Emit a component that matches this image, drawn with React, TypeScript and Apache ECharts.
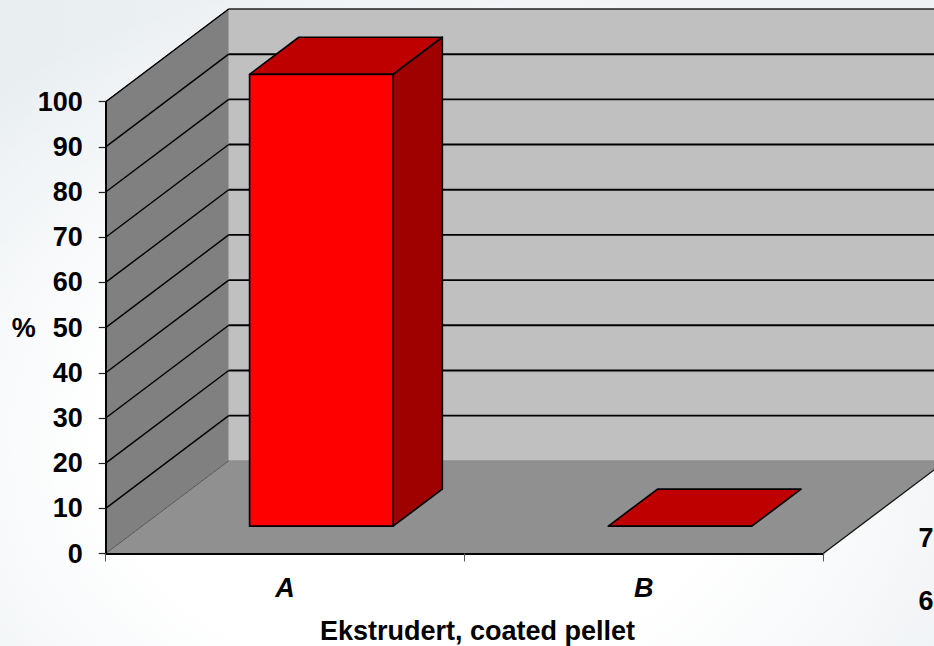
import React, { useEffect, useRef } from "react";
import * as echarts from "echarts";

const categories = ["A", "B"];
const values = [100, 0];
const gridTicks = [10, 20, 30, 40, 50, 60, 70, 80, 90, 100];
const clippedLabels = ["7", "6"];
const xName = "Ekstrudert, coated pellet";
const yName = "%";

const DX = 123;
const DY = -92.7;
const BAR_FRONT = 0.295;
const BAR_BACK = 0.695;
const BAR_W = 0.4;
const FONT = "Liberation Sans";
const FS = 27;

function poly(points: number[][], fill: string, stroke: string, lineWidth: number) {
  return { type: "polygon", shape: { points }, style: { fill, stroke, lineWidth, lineJoin: "round" } };
}

export default function App() {
  const ref = useRef<HTMLDivElement>(null);
  useEffect(() => {
    const chart = echarts.init(ref.current!, undefined, { renderer: "svg" });
    const bounds = (api: any) => {
      const w = api.size([1, 0])[0];
      const left = api.coord([0, 0])[0] - w / 2;
      const right = left + w * categories.length;
      return { w, left, right };
    };
    chart.setOption({
      animation: false,
      backgroundColor: "transparent",
      grid: { left: 105.7, top: 101.7, width: 717.5, height: 451.8, containLabel: false, outerBoundsMode: "none" },
      xAxis: {
        type: "category",
        data: categories,
        z: 10,
        axisLine: { lineStyle: { color: "#000", width: 2.2 } },
        axisTick: { show: true, length: 8, alignWithLabel: false, lineStyle: { color: "#555", width: 1 } },
        axisLabel: { fontFamily: FONT, fontWeight: "bold", fontStyle: "italic", fontSize: FS, color: "#000", margin: 21 },
        name: xName,
        nameLocation: "middle",
        nameGap: 64,
        nameMoveOverlap: false,
        nameTextStyle: { fontFamily: FONT, fontWeight: "bold", fontSize: FS, color: "#000", padding: [0, 0, 0, 26] },
      },
      yAxis: {
        type: "value",
        min: 0,
        max: 100,
        interval: 10,
        z: 10,
        axisLine: { show: true, lineStyle: { color: "#000", width: 2 } },
        axisTick: { show: true, length: 7, lineStyle: { color: "#222", width: 1.2 } },
        axisLabel: { fontFamily: FONT, fontWeight: "bold", fontSize: FS, color: "#000", margin: 23 },
        splitLine: { show: false },
        name: yName,
        nameLocation: "middle",
        nameRotate: 0,
        nameGap: 70,
        nameMoveOverlap: false,
        nameTextStyle: { fontFamily: FONT, fontWeight: "bold", fontSize: FS, color: "#000" },
      },
      graphic: clippedLabels.map((t, i) => ({
        type: "text",
        x: 918.5,
        y: i === 0 ? 524 : 587,
        style: { text: t, fontFamily: FONT, fontWeight: "bold", fontSize: FS, fill: "#000" },
      })),
      series: [
        {
          type: "custom",
          coordinateSystem: "cartesian2d",
          clip: false,
          z: 1,
          data: [[0, 0]],
          renderItem: (_p: any, api: any) => {
            const { left, right } = bounds(api);
            const y0 = api.coord([0, 0])[1];
            const y1 = api.coord([0, 100])[1];
            return {
              type: "group",
              children: [
                poly([[left + DX, y1 + DY], [right + DX, y1 + DY], [right + DX, y0 + DY], [left + DX, y0 + DY]], "#c0c0c0", "#2a2a2a", 0),
                {
                  type: "line",
                  shape: { x1: left + DX, y1: y1 + DY, x2: right + DX, y2: y1 + DY },
                  style: { stroke: "#222", lineWidth: 1.5 },
                },
                poly([[left, y1], [left + DX, y1 + DY], [left + DX, y0 + DY], [left, y0]], "#808080", "#444", 0),
                {
                  type: "line",
                  shape: { x1: left, y1: y1, x2: left + DX, y2: y1 + DY },
                  style: { stroke: "#333", lineWidth: 1 },
                },
                poly([[left, y0], [right, y0], [right + DX, y0 + DY], [left + DX, y0 + DY]], "#909090", "#000", 0),
                {
                  type: "line",
                  shape: { x1: left, y1: y0, x2: left + DX, y2: y0 + DY },
                  style: { stroke: "#555", lineWidth: 1 },
                },
                {
                  type: "line",
                  shape: { x1: left + DX, y1: y0 + DY, x2: right + DX, y2: y0 + DY },
                  style: { stroke: "#8a8a8a", lineWidth: 1 },
                },
                {
                  type: "line",
                  shape: { x1: right, y1: y0, x2: right + DX, y2: y0 + DY },
                  style: { stroke: "#111", lineWidth: 1.3 },
                },
              ],
            };
          },
        },
        {
          type: "custom",
          coordinateSystem: "cartesian2d",
          clip: false,
          z: 2,
          data: gridTicks.map((v) => [0, v]),
          renderItem: (_p: any, api: any) => {
            const { left, right } = bounds(api);
            const y = api.coord([0, api.value(1)])[1];
            return {
              type: "group",
              children: [
                {
                  type: "line",
                  shape: { x1: left, y1: y, x2: left + DX, y2: y + DY },
                  style: { stroke: "#000", lineWidth: 1.4 },
                },
                {
                  type: "line",
                  shape: { x1: left + DX, y1: y + DY, x2: right + DX, y2: y + DY },
                  style: { stroke: "#000", lineWidth: api.value(1) === 100 ? 0 : 1.9 },
                },
              ],
            };
          },
        },
        {
          type: "custom",
          coordinateSystem: "cartesian2d",
          clip: false,
          z: 3,
          data: categories.map((_c, i) => [i, values[i]]),
          renderItem: (_p: any, api: any) => {
            const { w } = bounds(api);
            const c = api.coord([api.value(0), api.value(1)]);
            const yBase = api.coord([api.value(0), 0])[1];
            const xl = c[0] - (w * BAR_W) / 2 + DX * BAR_FRONT;
            const xr = xl + w * BAR_W;
            const yb = yBase + DY * BAR_FRONT;
            const yt = c[1] + DY * BAR_FRONT;
            const ox = DX * (BAR_BACK - BAR_FRONT);
            const oy = DY * (BAR_BACK - BAR_FRONT);
            const lw = 1.7;
            const children: any[] = [
              poly([[xl, yt], [xl + ox, yt + oy], [xr + ox, yt + oy], [xr, yt]], "#bf0000", "#000", lw),
            ];
            if (yb - yt > 0.5) {
              children.push(poly([[xr, yt], [xr + ox, yt + oy], [xr + ox, yb + oy], [xr, yb]], "#9f0000", "#000", lw));
              children.push(poly([[xl, yt], [xr, yt], [xr, yb], [xl, yb]], "#ff0000", "#000", lw));
            }
            return { type: "group", children };
          },
        },
      ],
    });
    return () => chart.dispose();
  }, []);
  return (
    <div
      style={{
        position: "fixed",
        left: 0,
        top: 0,
        width: 934,
        height: 646,
        overflow: "hidden",
        background:
          "radial-gradient(ellipse 640px 470px at 420px 440px, #ffffff 50%, rgba(255,255,255,0) 100%), linear-gradient(100deg, #e9eef1 0%, #f3f5f7 55%, #eef1f4 100%)",
      }}
    >
      <div ref={ref} style={{ width: 934, height: 646 }} />
    </div>
  );
}
